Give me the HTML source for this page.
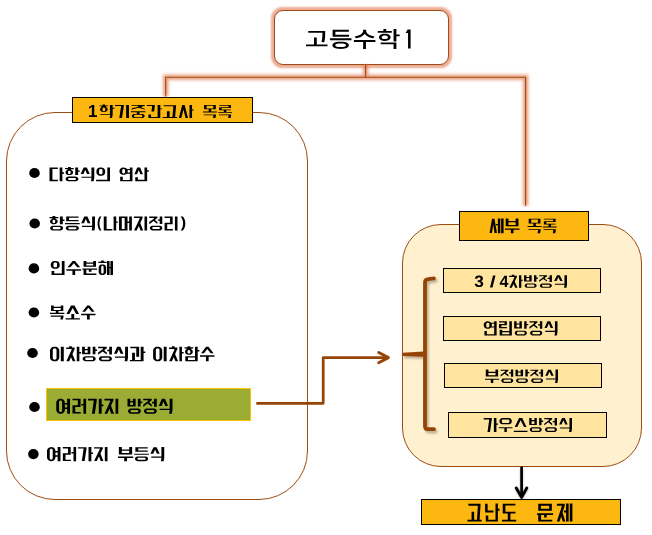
<!DOCTYPE html>
<html lang="ko">
<head>
<meta charset="utf-8">
<title>고등수학1 - 1학기중간고사 목록</title>
<style>
html, body { margin: 0; padding: 0; background: #fff; }
#stage { position: relative; width: 652px; height: 535px; overflow: hidden; background: #fff;
  font-family: "Liberation Sans", sans-serif; font-weight: bold; }
#stage div, #stage ul, #stage li { box-sizing: border-box; position: absolute; margin: 0; padding: 0; }
/* real text stays in the DOM; the visible glyphs are drawn as outlines in #ink
   because the Liberation family has no Hangul */
.t { color: transparent; white-space: nowrap; text-align: center; overflow: hidden; }
#title { left: 274px; top: 10px; width: 175px; height: 55px; border: 1px solid #9b4b15; border-radius: 9px;
  background: #fff; box-shadow: 0 0 2px 2.4px rgba(222,98,50,.52);
  font-size: 24px; line-height: 53px; }
#listbox { left: 6px; top: 112px; width: 302px; height: 388px; border: 1px solid #9e4c14; border-radius: 49px; background: #fff; }
#listlabel { left: 72px; top: 97px; width: 181px; height: 26px; border: 1px solid #000; background: #fdb711;
  font-size: 16px; line-height: 24px; }
#list { left: 0; top: 0; list-style: none; }
#list li { left: 49px; height: 20px; font-size: 16px; line-height: 20px; }
#hl { left: 46px; top: 388px; width: 205px; height: 33px; border: 1px solid #ffc000; background: #9aac33; }
#detail { left: 402px; top: 224px; width: 240px; height: 243px; border: 1px solid #9e4c14; border-radius: 39px; background: #fff0d0; }
#detaillabel { left: 459px; top: 211px; width: 130px; height: 30px; border: 1px solid #000; background: #fdb711;
  font-size: 16px; line-height: 28px; }
.sub { height: 25px; border: 1px solid #000; background: #ffe4a0; font-size: 15px; line-height: 23px; }
#hard { left: 421px; top: 499px; width: 200px; height: 26px; border: 1px solid #000; background: #fdb711;
  font-size: 20px; line-height: 24px; }
#ink { position: absolute; left: 0; top: 0; pointer-events: none; }
</style>
</head>
<body>
<div id="stage">
  <div id="listbox"></div>
  <div id="detail"></div>

  <div id="title" class="t">고등수학1</div>
  <div id="listlabel" class="t">1학기중간고사 목록</div>

  <div id="hl"></div>
  <ul id="list">
    <li class="t" style="top:164px">다항식의 연산</li>
    <li class="t" style="top:213px">항등식(나머지정리)</li>
    <li class="t" style="top:258px">인수분해</li>
    <li class="t" style="top:302px">복소수</li>
    <li class="t" style="top:344px">이차방정식과 이차함수</li>
    <li class="t" style="top:396px;left:56px">여러가지 방정식</li>
    <li class="t" style="top:444px;left:47px">여러가지 부등식</li>
  </ul>

  <div id="detaillabel" class="t">세부 목록</div>
  <div class="sub t" style="left:443px;top:268px;width:158px">3 / 4차방정식</div>
  <div class="sub t" style="left:443px;top:316px;width:158px">연립방정식</div>
  <div class="sub t" style="left:444px;top:363px;width:158px">부정방정식</div>
  <div class="sub t" style="left:448px;top:412px;width:159px;height:26px">가우스방정식</div>
  <div id="hard" class="t">고난도 문제</div>

  <svg id="ink" width="652" height="535" viewBox="0 0 652 535">
    <defs>
      <filter id="glow" filterUnits="userSpaceOnUse" x="0" y="0" width="652" height="535"><feGaussianBlur stdDeviation="1.5"/></filter>
      <filter id="soft" filterUnits="userSpaceOnUse" x="0" y="0" width="652" height="535"><feGaussianBlur stdDeviation="1.2"/></filter>
    </defs>
    <!-- tree connectors from the title with orange glow -->
    <g fill="none" stroke-linejoin="miter">
      <path d="M365.6 65V77.3M165.7 96.5V77.3H525.6V205.8" stroke="#e06a3c" stroke-opacity=".62" stroke-width="5.5" filter="url(#glow)"/>
      <path d="M365.6 65V77.3M165.7 96.5V77.3H525.6V205.8" stroke="#9b4b15" stroke-width="1.1"/>
    </g>
    <!-- elbow arrow from highlighted item to detail box -->
    <g fill="none" stroke="#964405" stroke-width="2.7" stroke-linejoin="round">
      <path d="M256.3 403.3H323.2V357.6H388"/>
      <path d="M378.7 352.5L388.4 357.6L378.7 362.7" stroke-width="2.9" stroke-linecap="round"/>
    </g>
    <!-- left brace (with soft drop shadow) -->
    <g opacity=".36" filter="url(#soft)" transform="translate(1.8 2.4)" fill="#4a3c28" stroke="#4a3c28">
      <path d="M434 278.3L428.2 279.1Q425 279.4 425 282.4V426.2Q425 429.2 428 429.2H434" fill="none" stroke-width="3.8" stroke-linecap="round"/>
      <path d="M402.4 352.8L423.6 351.5V356.7L402.4 355.9Z" stroke="none"/>
    </g>
    <path d="M434 278.3L428.2 279.1Q425 279.4 425 282.4V426.2Q425 429.2 428 429.2H434" fill="none" stroke="#964405" stroke-width="3.8" stroke-linecap="round"/>
    <path d="M402.4 352.8L423.6 351.5V356.7L402.4 355.9Z" fill="#964405"/>
    <!-- down arrow -->
    <g fill="none" stroke="#000" stroke-width="2.7" stroke-linejoin="round">
      <g opacity=".28" filter="url(#soft)" transform="translate(0 .8)">
        <path d="M521.6 468V497.4"/>
        <path d="M516.3 488L521.6 497.4L526.8 488" stroke-width="2.9" stroke-linecap="round"/>
      </g>
      <path d="M521.6 466.6V497.4"/>
      <path d="M516.3 488L521.6 497.4L526.8 488" stroke-width="2.9" stroke-linecap="round"/>
    </g>
    <!-- list bullets -->
    <g fill="#000">
      <ellipse cx="34.5" cy="173" rx="5.3" ry="5.1"/>
      <ellipse cx="34.7" cy="223.5" rx="5.3" ry="5.1"/>
      <ellipse cx="33.9" cy="268.4" rx="5.3" ry="5.1"/>
      <ellipse cx="33.9" cy="312.5" rx="5.3" ry="5.1"/>
      <ellipse cx="32.5" cy="353" rx="5.3" ry="5.1"/>
      <ellipse cx="34.5" cy="407" rx="5.3" ry="5.1"/>
      <ellipse cx="33.4" cy="454.1" rx="5.3" ry="5.1"/>
    </g>
    <!-- glyph outlines -->
    <g fill="#000">
<path d="M313.98 44.41l0-6.93l2.8 0l0 6.93l10.73 0l0 1.91l-21.51 0l0-1.91zM346.66 42.62l.78 .4l.61 .47l.44 .54l.26 .59l.09 .66l-.09 .66l-.26 .59l-.44 .53l-.61 .47l-.78 .41l-.94 .34l-1.07 .26l-1.21 .19l-1.33 .11l-1.47 .04l-1.47-.04l-1.33-.11l-1.21-.19l-1.07-.26l-.94-.34l-.79-.41l-.61-.47l-.44-.53l-.26-.59l-.09-.65l.09-.66l.26-.6l.44-.53l.61-.48l.79-.4l.94-.34l1.07-.27l1.21-.19l1.33-.11l1.47-.04l1.47 .04l1.33 .11l1.21 .19l1.07 .27zM340.63 43.46l-1.29 .03l-1.13 .1l-.96 .17l-.78 .23l-.59 .29l-.4 .35l-.2 .42l0 .46l.08 .22l.3 .38l.22 .17l.27 .15l.69 .26l1.37 .27l1.13 .1l1.29 .03l1.31-.03l1.13-.1l1.37-.27l.36-.12l.59-.29l.4-.35l.12-.2l.08-.22l0-.46l-.2-.42l-.4-.35l-.59-.29l-.78-.23l-.95-.17l-1.13-.1zM351.46 38.34l0 1.9l-21.52 0l0-1.9zM325.19 34.38l-.07 2.22l-.17 1.88l-.19 1.38l-.46 2.32l-2.81-.26l.46-2.21l.28-1.98l.13-2.59l.05-2.32l-14.17 0l0-1.88l16.97 0zM332.6 36.71l0-6.95l16.23 0l0 1.89l-13.46 0l0 3.21l13.6 0l0 1.85zM364.12 34.47l-1.08 1.03l-.85 .61l-.96 .55l-1.05 .48l-1.13 .42l-1.84 .47l-1.31 .22l-1.1-1.87l1.69-.28l1.05-.27l.98-.34l.91-.39l.82-.43l1.06-.73l.59-.53l.48-.56l.51-.88l.12-.3l.12-.6l.02-1.33l2.95 0l.02 1.32l.12 .6l.12 .3l.52 .87l.48 .56l.59 .53l.69 .5l.77 .46l1.33 .6l.98 .34l1.05 .28l1.68 .28l-1.1 1.87l-.66-.1l-1.27-.26l-1.21-.34l-1.13-.41l-1.05-.49l-.96-.56l-.85-.61l-.75-.67l-.84-1.01zM380.7 44.31l0-1.87l15.66 0l0 6.46l-2.79 0l0-4.59zM353.85 41.96l0-1.91l21.52 0l0 1.91l-9.43 0l0 6.94l-2.79 0l0-6.94zM387.82 34.14l.5 .2l.86 .48l.68 .59l.26 .33l.21 .36l.14 .38l.09 .41l0 .84l-.09 .4l-.14 .38l-.21 .35l-.26 .34l-.68 .59l-.41 .25l-.95 .42l-.53 .16l-1.17 .21l-.64 .06l-1.33 0l-1.23-.15l-1.11-.28l-.5-.2l-.86-.47l-.68-.59l-.26-.34l-.21-.35l-.15-.38l-.08-.4l-.03-.42l.03-.42l.08-.41l.15-.38l.21-.36l.26-.33l.31-.31l.77-.54l.96-.42l.54-.16l.57-.13l1.23-.14l1.33 0l.64 .05l.6 .09zM384.82 35.47l-1.03 .08l-.85 .23l-.67 .38l-.24 .24l-.17 .27l-.11 .31l-.03 .33l.03 .33l.11 .29l.17 .27l.24 .24l.31 .21l.77 .31l.94 .15l1.06 0l.49-.06l.85-.23l.67-.38l.24-.24l.17-.27l.1-.29l.04-.33l-.04-.33l-.1-.31l-.17-.27l-.24-.24l-.31-.21l-.76-.31l-.45-.09zM393.57 41.5l0-12.39l2.79 0l0 5.27l3.34 0l0 1.92l-3.34 0l0 5.2zM391.83 32.87l-14.03 0l0-1.86l5.62 0l0-2.01l2.79 0l0 2.01l5.62 0z"/>
<path d="M405.6 33.06l2.46 0l0 15.54l2.54 0l0-19l-3 0z"/>
<path d="M88.9 116.9l0-1.75l2.97 0l0-8.05l-2.88 1.77l0-1.85l3-1.92l2.26 0l0 10.05l2.75 0l0 1.75z"/>
<path d="M189.48 118l2.57 0l0-7.55l1.7 0l0-1.01l-1.7 0l0-4.44l-2.57 0zM182.18 105.07l-3.3 12.86l2.46 0l2.11-8.5l2.1 8.5l2.46 0l-3.32-12.86zM173.29 107.13l-.87 9.93l-2.8 0l0-5.92l-2.72 0l0 5.92l-4.21 0l0 .94l14.52 0l0-.94l-2.01 0l0-.99l.87-9.92l0-1l-12.37 0l0 .99l9.59 0zM157.6 105l0 12.08l-6.57 0l0-2.59l-2.63 0l0 3.51l11.9 0l0-8.66l1.69 0l0-.77l-1.69 0l0-3.57zM152.04 107.06l-.6 4.54l2.67 0l.73-5.53l0-1l-8.03 0l0 1l5.23 0zM131.68 116l.1 .33l.17 .36l.24 .32l.29 .29l.34 .24l.38 .2l.65 .19l.72 .07l7.24 0l.49-.03l.67-.15l.41-.18l.36-.22l.31-.26l.37-.47l.18-.36l.1-.33l-.1-.32l-.18-.36l-.37-.47l-.31-.27l-.56-.31l-.43-.15l-.69-.11l-2.52 0l0-1.85l5.91 0l0-.87l-14.52 0l0 .87l5.91 0l0 1.85l-2.52 0l-.47 .06l-.65 .2l-.56 .31l-.45 .41l-.33 .51zM134.16 115.52l.04-.22l.17-.27l.18-.13l.2-.07l6.88 0l.29 .13l.16 .16l.1 .18l.04 .22l-.01 1.08l-.07 .2l-.13 .17l-.18 .14l-.2 .07l-6.88 0l-.29-.13l-.16-.16l-.1-.19zM144.83 105.79l0-.7l-13.28 0l0 .7l6.41 0l0 1l-6.41 1.82l0 .96l.3 0l6.52-1.9l6.16 1.9l.3 0l0-.85l-3.18-.98l0-1zM128.99 118l0-13l-2.84 0l0 13zM121.98 117.91l1.91-11.84l0-1l-8.84 0l0 1l5.93 0l0 .99l-1.68 10.85zM109.67 118l2.37 0l.62-3.2l0-6.12l1.7 0l0-1l-1.7 0l0-2.68l-2.76 0l0 9.06l-9.61 0l0 .74l9.84 0l0 1zM100 109.43l.04 .36l.14 .41l.37 .57l.33 .33l.4 .29l.69 .34l.81 .22l1.17 .08l.88-.08l.55-.13l.52-.19l.68-.38l.38-.31l.31-.35l.32-.59l.11-.6l-.07-.48l-.08-.24l-.28-.46l-.6-.6l-.52-.33l0-1l2.04 0l0-.77l-3.01 0l0-1.02l-2.62 0l0 1.02l-3.06 0l0 .77l2.03 0l0 1l-.5 .32l-.6 .59l-.28 .47l-.08 .26zM103.86 111.32l-.45-.09l-.31-.14l-.27-.2l-.26-.32l-.12-.38l0-1.35l.08-.39l.3-.43l.47-.3l.56-.13l.46 .09l.31 .14l.26 .2l.25 .33l.12 .38l.01 1.35l-.02 .21l-.11 .28l-.33 .39l-.38 .23z"/>
<path d="M230.94 109.57l-9.31 0l0-1.58l9.31 0l0-2.92l-11.74 0l0 .71l9.31 0l0 1.57l-9.31 0l0 2.92l4.58 0l0 1.74l-5.64 0l0 .79l13.86 0l0-.79l-5.64 0l0-1.74l4.58 0zM228.51 116.24l-.39 1.76l2.42 0l.61-2.75l0-.74l-12.16 0l0 .73l9.52 0zM211.22 111.58l0-2.24l4.58 0l0-4.27l-11.74 0l0 4.27l4.58 0l0 2.24l-5.64 0l0 .87l13.86 0l0-.87zM206.57 105.79l6.72 0l0 2.83l-6.72 0zM213.37 116.24l-.39 1.76l2.42 0l.61-2.75l0-.74l-12.16 0l0 .73l9.52 0z"/>
<path d="M96.09 181.25l13.91 0l0-13.74l-2.71 0l0 12.36l-11.2 0zM102.69 167.76l-.55-.13l-.58-.04l-1.85 .01l-.57 .09l-.53 .17l-.73 .38l-.61 .52l-.32 .41l-.36 .7l-.13 .52l-.04 .52l0 1.44l.04 .52l.13 .52l.36 .71l.32 .41l.61 .52l.73 .38l.81 .22l.59 .04l1.55 0l.58-.04l.55-.12l.77-.33l.64-.48l.52-.6l.35-.71l.17-.78l.01-1.7l-.1-.78l-.3-.74l-.46-.63l-.39-.36l-.44-.3zM101.17 169.02l.4 .06l.36 .17l.3 .27l.18 .34l.07 .39l-.02 2.97l-.05 .18l-.18 .34l-.48 .37l-.38 .11l-1.18 0l-.38-.11l-.33-.23l-.25-.3l-.08-.18l-.06-.39l.02-2.97l.04-.18l.19-.34l.47-.37l.38-.11zM81.45 176.67l0 1.19l9.99 0l0 .68l-.5 2.71l2.72 0l.62-3.39l0-10.35l-2.84 0l0 9.16zM80.61 174.05l2.78 0l1.81-4.01l1.82 4.01l2.78 0l-3.03-6.46l-3.13 0zM79.79 170.43l-1.68 0l0-2.92l-2.86 0l0 7.57l2.86 0l0-3.26l1.68 0zM65.57 178.93l.12 .51l.18 .39l.24 .35l.45 .45l.56 .33l.42 .16l.45 .1l.47 .03l7.08 0l.7-.07l.43-.13l.41-.19l.36-.23l.32-.29l.26-.33l.21-.37l.2-.71l-.12-.51l-.18-.4l-.23-.35l-.46-.44l-.56-.33l-.42-.17l-.45-.1l-.47-.03l-7.08 0l-.7 .07l-.43 .14l-.41 .19l-.36 .23l-.31 .29l-.27 .32l-.21 .38zM68.85 177.92l6.4 .01l.2 .06l.18 .13l.18 .26l.03 .99l-.07 .2l-.14 .17l-.18 .12l-.2 .06l-6.51 0l-.29-.11l-.22-.24l-.06-.2l-.01-.78l.03-.21l.17-.26l.18-.13zM71.65 170.17l-.67-.29l0-.68l2.71 0l0-1.15l-2.99 0l0-1.05l-2.69 0l0 1.05l-3.03 0l0 1.15l2.6 0l0 .68l-.5 .21l-.58 .38l-.37 .34l-.29 .38l-.24 .58l-.05 .8l.1 .61l.17 .38l.26 .34l.32 .31l.38 .28l.43 .23l.49 .18l.79 .17l.57 .03l.95-.03l.55-.1l.52-.16l.68-.32l.4-.28l.47-.48l.31-.55l.1-.4l.01-.62l-.09-.58l-.28-.54l-.21-.25l-.52-.44zM69.32 174.04l-.5-.13l-.45-.28l-.28-.39l-.07-.38l.01-1.18l.14-.35l.13-.15l.34-.27l.41-.17l.26-.05l.49 .12l.38 .22l.29 .3l.08 .17l.08 .37l-.01 1.09l-.16 .44l-.19 .23l-.25 .18l-.31 .14zM59.67 181.25l2.72 0l0-7.56l1.67 0l0-1.32l-1.67 0l0-4.86l-2.72 0zM57.96 179.82l-5.52 0l0-10.89l5.44 0l0-1.34l-8.38 0l0 13.6l8.46 0z"/>
<path d="M135.26 181.25l11.88 0l0-9.46l1.61 0l0-1.48l-1.61 0l0-2.8l-2.66 0l0 12.34l-6.62 0l0-2.64l-2.6 0zM138.68 170.31l1.67 3.89l2.59 0l-2.8-6.61l-2.93 0l-2.8 6.61l2.59 0zM120.17 181.25l12.31 0l0-13.74l-2.64 0l0 1.45l-2.83 0l-.47-.46l-.28-.2l-.63-.34l-.71-.24l-.37-.08l-.78-.07l-1.09 .04l-.82 .2l-.75 .35l-.45 .32l-.39 .36l-.46 .63l-.26 .69l-.05 .49l0 1.12l.05 .49l.14 .46l.39 .65l.55 .54l.69 .43l.81 .3l.59 .12l1.37 .02l.68-.09l.65-.19l.59-.27l.75-.54l3.08 0l0 6.26l-7.05 0l0-3.12l-2.62 0zM127.68 172.54l0-2.43l2.16 0l0 2.43zM123.61 168.98l.55 .15l.5 .33l.26 .37l.12 .55l0 1.86l-.12 .43l-.18 .28l-.37 .32l-.33 .16l-.43 .09l-.56-.14l-.4-.26l-.34-.45l-.11-.31l-.02-.25l0-1.85l.13-.43l.26-.37l.27-.21l.33-.17z"/>
<path d="M82.04 225.84l0 1.21l10.1 0l0 .68l-.52 2.77l2.76 0l.62-3.44l0-10.54l-2.86 0l0 9.32zM83.99 223.18l1.83-4.09l1.85 4.09l2.81 0l-3.07-6.58l-3.15 0l-3.08 6.58zM79.69 223.03l-14.63 0l0 1.14l14.63 0zM65.78 228.16l.13 .52l.18 .4l.23 .35l.45 .44l.56 .34l.43 .16l.46 .1l.48 .03l7.34 0l.72-.07l.45-.13l.41-.19l.36-.24l.31-.28l.26-.33l.21-.38l.2-.72l-.12-.52l-.18-.39l-.23-.34l-.45-.45l-.56-.34l-.43-.17l-.46-.1l-.49-.03l-7.34 0l-.72 .07l-.44 .14l-.41 .19l-.36 .24l-.31 .29l-.26 .33l-.21 .36l-.15 .41zM69.1 227.15l6.66 .01l.21 .06l.18 .12l.17 .27l.02 1l-.06 .2l-.13 .16l-.18 .13l-.21 .06l-6.77 0l-.3-.12l-.22-.23l-.08-.31l0-.66l.04-.23l.17-.27l.18-.12zM78.57 219.93l-9.47 0l0-2.07l9.47 0l0-1.26l-12.4 0l0 4.59l12.4 0zM64.46 219.49l-1.69 0l0-2.97l-2.88 0l0 7.71l2.88 0l0-3.31l1.69 0zM50.1 228.13l.12 .53l.18 .4l.24 .35l.46 .46l.57 .34l.43 .16l.45 .1l.47 .03l7.16 0l.7-.07l.44-.13l.41-.19l.36-.24l.33-.3l.26-.33l.21-.38l.15-.41l.06-.32l-.13-.52l-.18-.4l-.23-.36l-.47-.44l-.56-.35l-.43-.17l-.45-.1l-.47-.03l-7.16 0l-.7 .08l-.44 .13l-.41 .2l-.37 .24l-.32 .28l-.26 .33l-.21 .38zM59.78 227.11l.31 .07l.18 .13l.18 .27l.04 .22l-.04 .89l-.18 .26l-.18 .13l-.2 .06l-6.59 0l-.2-.06l-.18-.13l-.13-.17l-.07-.2l.03-1l.1-.18l.16-.16l.29-.12zM55.92 219.06l-.35-.14l0-.68l2.73 0l0-1.18l-3.02 0l0-1.06l-2.72 0l0 1.06l-3.06 0l0 1.18l2.63 0l0 .68l-.5 .22l-.59 .39l-.37 .34l-.29 .4l-.24 .58l-.06 .83l.1 .61l.18 .39l.26 .35l.32 .32l.38 .27l.44 .24l.49 .18l.8 .17l.58 .04l.96-.04l.55-.09l.52-.16l.7-.34l.39-.27l.48-.49l.32-.57l.1-.41l.01-.64l-.1-.59l-.28-.54l-.21-.26l-.52-.44zM53.88 223.15l-.5-.12l-.46-.29l-.28-.4l-.07-.38l.02-1.19l.14-.35l.12-.16l.35-.28l.41-.17l.27-.04l.5 .11l.39 .23l.28 .31l.09 .17l.07 .37l0 1.1l-.16 .45l-.2 .23l-.25 .19l-.31 .14z"/>
<path d="M177.5 230.5l0-13.98l-2.58 0l0 13.98zM172.85 229.07l-5.65 0l0-4.79l5.47 0l0-7.68l-8.09 0l0 1.43l5.47 0l0 4.71l-5.47 0l0 7.68l8.27 0zM149.87 228.09l.12 .52l.17 .4l.23 .36l.44 .47l.54 .36l.41 .16l.43 .11l.46 .03l6.86 0l.68-.08l.42-.13l.39-.2l.35-.25l.31-.3l.25-.34l.2-.38l.2-.73l-.12-.54l-.17-.4l-.23-.36l-.44-.46l-.54-.35l-.41-.18l-.43-.1l-.46-.04l-6.86 0l-.67 .08l-.43 .14l-.39 .21l-.35 .24l-.3 .3l-.26 .34l-.2 .38zM153.06 227.07l6.19 .01l.19 .06l.17 .13l.17 .26l.02 1.01l-.06 .19l-.13 .17l-.17 .12l-.19 .06l-6.29 0l-.29-.12l-.21-.23l-.07-.31l0-.66l.03-.23l.17-.26l.17-.13zM159.69 220.82l0 3.21l2.6 0l0-7.51l-2.6 0l0 2.87l-1.9 0l0 1.43zM153.42 221.01l3.6 2.73l.4 0l0-1.78l-2.2-1.66l0-.68l2.2-1.67l0-1.35l-8.2 0l0 1.35l4.57 0l0 .68l-4.57 3.49l0 1.78l.4 0zM147.1 230.5l0-13.98l-2.6 0l0 13.98zM136.69 230.44l2.13-4.45l1.66 4.45l2.66 0l-2.75-7.1l0-.68l2.2-4.63l0-1.43l-8.58 0l0 1.43l5.54 0l0 .68l-5.48 11.73zM129.22 230.5l2.65 0l0-13.98l-2.65 0l0 4.96l-1.72 0l0-4.88l-8.54 0l0 13.82l8.54 0l0-7.45l1.72 0zM121.81 228.99l0-10.96l2.83 0l0 10.96zM113.59 230.5l2.64 0l0-7.69l1.62 0l0-1.35l-1.62 0l0-4.94l-2.64 0zM106.61 216.6l-2.86 0l0 13.84l8.64 0l0-1.45l-5.78 0z"/>
<path d="M99.6 230.6l-.75-1.34l-.31-.67l-.47-1.34l-.17-.69l-.13-.72l-.15-1.53l0-1.64l.15-1.53l.3-1.4l.21-.66l.57-1.34l.75-1.34l1.9 0l-.4 .68l-.67 1.35l-.48 1.35l-.31 1.4l-.15 1.52l-.02 .8l.08 1.56l.23 1.45l.17 .69l.21 .67l.58 1.35l.76 1.38z"/>
<path d="M180.6 230.6l.92-1.38l.38-.68l.57-1.34l.21-.68l.28-1.45l.09-1.57l-.03-.81l-.18-1.52l-.38-1.4l-.58-1.35l-.37-.67l-.91-1.35l2.28 0l.49 .67l.8 1.35l.31 .67l.46 1.36l.27 1.46l.07 .77l0 1.62l-.18 1.53l-.37 1.4l-.25 .67l-.68 1.35l-.92 1.35z"/>
<path d="M110.41 266.91l-.85 0l0-5.89l-2.59 0l0 13.98l2.59 0l0-6.68l.85 0l0 6.68l2.59 0l0-13.98l-2.59 0zM101.06 261.8l-2.75 0l0 1.23l8.2 0l0-1.23l-2.71 0l0-1.3l-2.74 0zM104.05 264.62l-.47-.11l-.49-.04l-1.61 .01l-.72 .14l-.65 .3l-.55 .42l-.43 .54l-.3 .63l-.11 .46l-.03 .47l0 4.53l.08 .71l.25 .65l.38 .57l.33 .31l.38 .27l.65 .29l.47 .12l.51 .03l1.6-.01l.71-.14l.64-.29l.55-.42l.44-.53l.3-.63l.12-.46l.04-.47l0-4.53l-.09-.7l-.26-.66l-.39-.57l-.33-.33l-.38-.26zM103.61 267.09l0 5.22l-.07 .47l-.19 .37l-.32 .29l-.18 .1l-.41 .11l-.27-.04l-.38-.17l-.32-.29l-.19-.37l-.05-.22l0-5.72l.13-.41l.26-.33l.35-.23l.47-.11l.41 .11l.18 .1l.32 .29l.19 .37zM88.8 271.86l2.61 0l0-2.07l5.76 0l0-1.25l-14.75 0l0 1.25l1.12 0l0 5.21l12.83 0l0-1.41l-10.05 0l0-3.8l2.48 0zM93.2 262.53l-6.84 0l0-1.51l-2.82 0l0 5.71l12.5 0l0-5.71l-2.84 0zM86.36 263.77l6.84 0l0 1.71l-6.84 0zM81.15 270.66l0-1.35l-14.75 0l0 1.35l6.04 0l0 4.34l2.76 0l0-4.34zM67.49 267.16l2.93 0l3.41-3.95l3.43 3.95l2.93 0l-5.18-6.08l-2.38 0zM64.54 275l0-13.98l-2.73 0l0 12.57l-7.57 0l0-2.67l-2.74 0l0 4.08zM57.26 261.27l-.56-.13l-.59-.04l-2.01 .01l-.57 .09l-.55 .17l-.5 .25l-.45 .31l-.57 .57l-.42 .68l-.18 .5l-.1 .53l0 1.42l.1 .54l.31 .75l.47 .64l.39 .36l.45 .31l.5 .24l.83 .21l.6 .05l2-.01l.58-.09l.8-.28l.7-.43l.56-.56l.41-.69l.24-.77l.04-1.42l-.1-.8l-.3-.74l-.29-.44l-.36-.39l-.65-.49zM55.72 262.57l.41 .06l.36 .17l.31 .28l.19 .34l.06 .39l0 2.22l-.06 .39l-.08 .17l-.26 .32l-.16 .13l-.36 .18l-.41 .06l-.92 0l-.42-.06l-.37-.18l-.16-.13l-.25-.32l-.12-.36l-.01-2.42l.06-.39l.18-.34l.3-.28l.18-.1l.39-.12z"/>
<path d="M95.5 315.16l0-1.36l-14.35 0l0 1.36l5.88 0l0 4.34l2.69 0l0-4.34zM82.21 311.65l2.87 0l3.31-3.95l3.32 3.95l2.86 0l-5.03-6.09l-2.33 0zM79.93 318.14l-5.76 0l0-4.17l-2.84 0l0 4.17l-5.76 0l0 1.36l14.36 0zM66.41 314.11l3.03 0l3.31-6.13l3.31 6.13l3.03 0l-4.6-8.55l-3.48 0zM53.68 305.5l-2.63 0l0 5.55l4.79 0l0 1.74l-5.84 0l0 1.11l14.35 0l0-1.11l-5.84 0l0-1.74l4.79 0l0-5.55l-2.61 0l0 1.34l-7.01 0zM60.69 307.92l0 2l-7.01 0l0-2zM60.29 319.5l2.58 0l.63-2.77l0-1.15l-12.79 0l0 1.15l10.06 0l0 .67z"/>
<path d="M143.59 346.79l-2.89 0l0 13.12l-5.75 0l0-7.2l-2.86 0l0 7.2l-2.24 0l0 1.34l13.74 0l0-8.28l1.71 0l0-1.5l-1.71 0zM130.27 346.87l0 1.38l6 0l0 8.54l2.86 0l0-9.92zM125.11 356.41l-10.21 0l0 1.28l10.21 0l0 .68l-.53 2.88l2.79 0l.62-3.56l0-10.9l-2.88 0zM114.02 353.69l2.85 0l1.85-4.23l1.87 4.23l2.85 0l-3.12-6.82l-3.18 0zM98.85 358.75l.13 .55l.18 .41l.24 .38l.47 .48l.57 .37l.43 .17l.45 .1l.48 .04l7.23 0l.71-.08l.44-.14l.42-.2l.37-.26l.32-.31l.27-.35l.21-.4l.15-.43l.06-.33l-.13-.57l-.18-.41l-.24-.37l-.46-.48l-.58-.36l-.43-.18l-.45-.11l-.48-.04l-7.23 0l-.71 .08l-.44 .15l-.41 .21l-.37 .25l-.33 .31l-.27 .35l-.21 .39l-.15 .43zM108.64 357.71l.31 .07l.18 .13l.18 .28l.03 .23l0 .78l-.07 .2l-.22 .24l-.3 .12l-6.67 0l-.2-.06l-.18-.13l-.14-.17l-.06-.2l.02-1.01l.18-.28l.18-.13l.2-.06zM109.22 351.25l0 3.32l2.72 0l0-7.78l-2.72 0l0 2.96l-2.01 0l0 1.5zM102.58 351.44l3.82 2.83l.4 0l0-1.86l-2.32-1.72l0-.68l2.32-1.72l0-1.42l-8.64 0l0 1.42l4.83 0l0 .68l-4.83 3.6l0 1.86l.4 0zM97.14 350.97l0-1.5l-1.72 0l0-2.68l-2.74 0l0 7.58l2.74 0l0-3.4zM82.63 358.75l.13 .55l.18 .41l.24 .38l.46 .48l.58 .37l.43 .17l.45 .1l.48 .04l7.21 0l.72-.08l.45-.14l.41-.2l.37-.26l.31-.31l.27-.35l.21-.4l.15-.43l.06-.33l-.13-.57l-.18-.41l-.24-.37l-.45-.48l-.57-.36l-.43-.18l-.46-.11l-.49-.04l-7.21 0l-.71 .08l-.44 .15l-.42 .21l-.37 .25l-.32 .31l-.27 .35l-.21 .39l-.15 .43zM85.27 358.28l.07-.23l.14-.22l.18-.17l.23-.08l6.59 0l.32 .16l.23 .31l.07 .37l-.01 .8l-.06 .23l-.14 .21l-.18 .16l-.23 .08l-6.59 0l-.33-.15l-.22-.3l-.07-.37zM87.65 346.87l0 2.06l-2.8 0l0-2.06l-2.74 0l0 7.26l8.28 0l0-7.26zM84.85 352.81l0-2.62l2.8 0l0 2.62zM81.09 353.39l0-1.42l-1.72 0l0-5.18l-2.61 0l0 14.46l2.61 0l0-7.86zM72.74 361.23l2.71 0l-2.89-6.84l0-.68l2.11-4.72l0-1.48l-2.82 0l0-1.26l-2.74 0l0 1.26l-2.89 0l0 1.48l5.39 0l0 .68l-5.23 11.56l2.81 0l1.81-4.06zM60.81 361.25l2.97 0l0-14.46l-2.97 0zM56.92 347.11l-.89-.27l-.64-.05l-1.61 .01l-.65 .1l-.62 .2l-.83 .45l-.69 .61l-.53 .74l-.34 .85l-.12 .93l0 6.7l.12 .93l.34 .85l.34 .51l.4 .45l.74 .55l.87 .39l.97 .18l1.55 .01l.64-.05l.91-.26l.81-.45l.66-.62l.51-.75l.33-.84l.11-.9l0-6.7l-.04-.6l-.26-.88l-.44-.79l-.61-.65l-.49-.36zM54.9 348.39l.51 .09l.55 .33l.38 .48l.16 .47l.02 8.42l-.04 .24l-.14 .35l-.21 .32l-.28 .26l-.33 .19l-.25 .08l-.89 .04l-.53-.12l-.57-.35l-.32-.4l-.16-.48l-.01-8.43l.07-.39l.1-.24l.14-.21l.29-.26l.34-.2l.38-.14z"/>
<path d="M214.5 356.77l0-1.42l-14.52 0l0 1.42l5.95 0l0 4.48l2.72 0l0-4.48zM201.04 353.15l2.91 0l3.35-4.08l3.37 4.08l2.91 0l-5.11-6.3l-2.35 0zM197.71 349.99l0-3.2l-2.7 0l0 9.46l-9.69 0l0 5l12.39 0l0-9.78l1.68 0l0-1.48zM188.02 359.99l0-2.46l6.99 0l0 2.46zM191.98 349.82l-.74-.55l0-.68l2.04 0l0-1.24l-3 0l0-1.1l-2.7 0l0 1.1l-3.04 0l0 1.24l2.02 0l0 .68l-.49 .34l-.42 .41l-.34 .48l-.12 .26l-.14 .58l0 .81l.17 .67l.23 .41l.29 .38l.36 .34l.42 .29l.73 .33l.83 .18l.6 .04l.97-.04l.56-.1l.54-.18l.49-.23l.44-.29l.53-.52l.38-.61l.15-.44l.04-.46l-.01-.61l-.14-.54l-.27-.5zM188.93 350l.51 .13l.38 .25l.33 .44l.1 .3l.02 .22l0 1.06l-.04 .21l-.14 .29l-.19 .26l-.26 .22l-.31 .15l-.4 .09l-.51-.13l-.47-.33l-.3-.45l-.08-.43l.01-1.05l.17-.51l.2-.26l.27-.22l.31-.15zM183.63 351.97l-1.68 0l0-5.18l-2.58 0l0 14.46l2.58 0l0-7.86l1.68 0zM178.09 361.23l-2.83-6.84l0-.68l2.07-4.72l0-1.48l-2.77 0l0-1.26l-2.7 0l0 1.26l-2.83 0l0 1.48l5.29 0l0 .68l-5.13 11.56l2.76 0l1.77-4.05l1.71 4.05zM166.64 361.25l0-14.46l-2.93 0l0 14.46zM159.62 346.99l-.9-.19l-1.57-.01l-.66 .05l-.93 .26l-.81 .45l-.68 .61l-.52 .74l-.34 .85l-.11 .93l0 6.7l.11 .93l.34 .85l.33 .51l.4 .45l.47 .39l.53 .31l.89 .32l.64 .1l1.85 0l.61-.1l.87-.33l.51-.32l.66-.62l.49-.75l.33-.84l.11-.9l0-6.7l-.1-.9l-.32-.86l-.49-.74l-.42-.42l-.48-.36zM157.91 348.39l.5 .09l.54 .33l.38 .48l.15 .47l.02 8.42l-.04 .24l-.13 .35l-.21 .32l-.28 .26l-.32 .19l-.24 .08l-.87 .04l-.52-.12l-.56-.35l-.31-.4l-.16-.48l-.02-8.43l.08-.39l.1-.24l.14-.21l.27-.26l.34-.2l.37-.14z"/>
<path d="M118.25 413.75l0-15l-2.72 0l0 15zM109.51 408.9l1.77 4.79l2.8 0l-2.92-7.65l0-.68l2.32-4.95l0-1.58l-9.04 0l0 1.58l5.86 0l0 .68l-5.82 12.6l2.77 0zM101.7 413.75l0-7.6l1.72 0l0-1.58l-1.72 0l0-5.82l-2.9 0l0 15zM96.75 400.39l0-1.56l-8.79 0l0 1.56l5.75 0l0 .68l-1.76 12.6l2.87 0zM81.33 404.03l0 1.5l2.07 0l0 8.22l2.7 0l0-15l-2.7 0l0 5.28zM80.75 412.09l-5.53 0l0-5.07l5.34 0l0-8.27l-8.08 0l0 1.58l5.34 0l0 4.99l-5.34 0l0 8.26l8.27 0zM62.08 398.96l-.63-.16l-1.05-.05l-.68 .05l-.94 .27l-.57 .29l-.75 .58l-.41 .47l-.48 .8l-.2 .6l-.12 .97l0 6.94l.12 .97l.34 .89l.34 .53l.65 .68l.51 .36l.57 .29l.62 .2l.65 .1l1.07 0l.65-.1l.61-.2l.83-.46l.48-.4l.58-.73l.3-.55l.2-.61l.11-.64l.01-1l2.26 0l0 4.7l2.89 0l0-15l-2.89 0l0 4.2l-2.26 0l-.05-.82l-.16-.62l-.25-.58l-.33-.52l-.41-.47l-.48-.4l-.54-.33zM64.89 407.49l0-2.98l2.26 0l0 2.98zM60.58 412.06l-.48-.13l-.55-.36l-.32-.41l-.17-.5l-.03-8.54l.09-.55l.11-.24l.22-.32l.53-.39l.6-.18l.6 .18l.44 .3l.31 .41l.18 .5l.02 8.55l-.09 .54l-.11 .24l-.22 .32l-.53 .4z"/>
<path d="M159.66 408.71l0 1.35l10 0l0 .68l-.52 3.01l2.75 0l.61-3.68l0-11.32l-2.84 0l0 9.96zM161.6 405.92l1.81-4.37l1.82 4.37l2.82 0l-3.07-7.09l-3.13 0l-3.07 7.09zM143.92 411.14l.12 .59l.18 .43l.24 .39l.45 .49l.56 .38l.43 .18l.44 .11l.47 .04l7.09 0l.7-.08l.44-.15l.4-.21l.36-.27l.32-.32l.27-.36l.2-.41l.15-.44l.06-.37l-.12-.59l-.18-.43l-.24-.39l-.46-.48l-.56-.38l-.42-.19l-.44-.12l-.48-.03l-7.09 0l-.69 .08l-.44 .15l-.4 .22l-.37 .27l-.32 .31l-.26 .36l-.21 .41l-.14 .44zM153.51 410.08l.31 .08l.18 .13l.17 .29l.04 .24l-.01 .78l-.07 .21l-.21 .25l-.3 .12l-6.52 0l-.21-.06l-.17-.13l-.14-.18l-.06-.21l.02-1.02l.18-.29l.17-.13l.21-.07zM154.08 406.83l2.68 0l0-8.08l-2.68 0l0 3.07l-1.96 0l0 1.57l1.96 0zM151.32 406.52l.4 0l0-1.95l-2.28-1.78l0-.68l2.28-1.78l0-1.5l-8.48 0l0 1.5l4.74 0l0 .68l-4.74 3.73l0 1.95l.4 0l3.94-3.1zM142.25 401.53l-1.68 0l0-2.78l-2.7 0l0 7.87l2.7 0l0-3.52l1.68 0zM128.01 411.14l.13 .59l.17 .43l.24 .39l.46 .49l.56 .38l.42 .18l.45 .11l.47 .04l7.07 0l.71-.08l.44-.15l.41-.21l.35-.27l.31-.32l.26-.36l.21-.41l.14-.44l.06-.37l-.12-.59l-.18-.43l-.23-.39l-.45-.48l-.55-.38l-.42-.19l-.46-.12l-.48-.03l-7.07 0l-.7 .08l-.43 .15l-.41 .22l-.36 .27l-.32 .31l-.26 .36l-.21 .41l-.15 .44zM130.61 411.62l.03-1.07l.17-.34l.18-.17l.23-.09l6.45 0l.32 .16l.22 .32l.07 .39l-.01 .8l-.06 .24l-.13 .22l-.19 .16l-.22 .09l-6.45 0l-.32-.16l-.22-.31zM132.93 400.97l-2.73 0l0-2.14l-2.7 0l0 7.55l8.13 0l0-7.55l-2.7 0zM130.2 404.98l0-2.68l2.73 0l0 2.68z"/>
<path d="M107.5 461.15l0-14.07l-2.66 0l0 14.07zM98.97 456.6l1.72 4.49l2.72 0l-2.83-7.15l0-.68l2.27-4.66l0-1.44l-8.83 0l0 1.44l5.71 0l0 .68l-5.65 11.81l2.69 0zM91.36 461.15l0-7.15l1.67 0l0-1.45l-1.67 0l0-5.47l-2.85 0l0 14.07zM86.52 448.58l0-1.42l-8.58 0l0 1.42l5.61 0l0 .68l-1.72 11.81l2.81 0zM71.47 452.05l0 1.36l2.02 0l0 7.74l2.64 0l0-14.07l-2.64 0l0 4.97zM70.91 459.63l-5.39 0l0-4.81l5.21 0l0-7.74l-7.89 0l0 1.44l5.2 0l0 4.74l-5.2 0l0 7.74l8.07 0zM52.69 447.27l-.61-.14l-1.03-.05l-.66 .05l-.92 .25l-.56 .28l-.73 .54l-.4 .44l-.46 .76l-.21 .56l-.11 .91l0 6.49l.11 .91l.34 .84l.33 .5l.63 .64l.5 .34l.56 .27l.6 .19l.64 .09l1.05 0l.63-.09l.6-.19l.81-.43l.47-.38l.57-.68l.28-.53l.21-.57l.1-.6l.01-.94l2.19 0l0 4.42l2.83 0l0-14.07l-2.83 0l0 3.95l-2.19 0l-.05-.77l-.15-.59l-.25-.54l-.33-.49l-.39-.44l-.47-.38l-.52-.31zM55.44 455.3l0-2.84l2.19 0l0 2.84zM51.23 459.6l-.58-.17l-.42-.29l-.31-.38l-.17-.47l-.02-8.08l.08-.52l.11-.23l.22-.3l.51-.36l.58-.17l.58 .17l.42 .28l.31 .38l.17 .48l.02 8.08l-.08 .51l-.33 .52l-.51 .38z"/>
<path d="M151.26 456.45l0 1.23l10.12 0l0 .68l-.52 2.79l2.77 0l.62-3.46l0-10.61l-2.87 0l0 9.37zM153.21 453.79l1.84-4.12l1.85 4.12l2.82 0l-3.08-6.63l-3.16 0l-3.09 6.63zM148.9 453.63l-14.68 0l0 1.15l14.68 0zM134.95 458.8l.13 .52l.18 .4l.23 .35l.45 .45l.56 .34l.43 .16l.46 .1l.49 .03l7.36 0l.72-.07l.45-.13l.41-.19l.36-.24l.31-.29l.26-.33l.21-.37l.21-.73l-.12-.53l-.18-.39l-.24-.35l-.45-.45l-.56-.34l-.43-.17l-.46-.1l-.49-.04l-7.36 0l-.72 .08l-.45 .14l-.4 .19l-.37 .24l-.31 .29l-.26 .33l-.21 .37l-.15 .41zM138.27 457.78l6.69 .01l.2 .06l.18 .13l.18 .26l.02 1.01l-.06 .19l-.14 .17l-.18 .13l-.2 .06l-6.8 0l-.3-.12l-.22-.24l-.07-.31l0-.66l.03-.23l.18-.26l.18-.13zM147.78 450.51l-9.51 0l0-2.08l9.51 0l0-1.27l-12.44 0l0 4.62l12.44 0zM118 456.55l0 1.39l6.2 0l0 3.31l2.85 0l0-3.31l6.2 0l0-1.39zM129.2 449.38l-7.38 0l0-2.38l-2.97 0l0 7.51l13.33 0l0-7.51l-2.98 0zM121.82 453.08l0-2.26l7.38 0l0 2.26z"/>
<path d="M504.86 228.61l0 1.18l5.99 0l0 3.51l2.66 0l0-3.51l5.99 0l0-1.18zM515.68 221.02l-7.22 0l0-2.52l-2.78 0l0 7.66l12.78 0l0-7.66l-2.78 0zM515.68 224.94l-7.22 0l0-2.68l7.22 0zM503.58 218.58l-2.46 0l0 14.62l2.46 0zM500.29 233.2l0-14.62l-2.42 0l0 5.37l-1.94 0l0 1.18l1.94 0l0 8.07zM492.02 218.64l-2.45 14.47l2.37 0l1.3-8.68l1.33 8.68l2.37 0l-2.45-14.47z"/>
<path d="M555.63 223.68l-9.33 0l0-1.64l9.33 0l0-3.38l-11.77 0l0 .9l9.34 0l0 1.64l-9.34 0l0 3.38l4.59 0l0 1.82l-5.66 0l0 1l13.91 0l0-1l-5.66 0l0-1.82l4.59 0zM553.2 231.12l-.42 2.08l2.46 0l.61-3.07l0-.95l-12.21 0l0 .94l9.56 0zM535.85 225.93l0-2.39l4.59 0l0-4.88l-11.77 0l0 4.88l4.59 0l0 2.39l-5.66 0l0 1.08l13.91 0l0-1.08zM531.18 219.58l6.75 0l0 3.05l-6.75 0zM538.01 231.12l-.42 2.08l2.46 0l.61-3.07l0-.95l-12.21 0l0 .94l9.56 0z"/>
<path d="M483.2 283.79l-.04 .61l-.13 .54l-.22 .49l-.3 .43l-.4 .38l-.47 .31l-.54 .24l-.62 .17l-.69 .11l-.76 .03l-.73-.03l-.67-.1l-.6-.17l-.54-.23l-.48-.3l-.41-.37l-.34-.42l-.26-.48l-.19-.54l-.11-.6l2.39-.2l.15 .58l.26 .46l.39 .32l.5 .19l.63 .07l.61-.06l.26-.08l.44-.26l.17-.18l.22-.45l.08-.59l-.1-.55l-.11-.22l-.36-.38l-.25-.14l-.63-.2l-.38-.04l-1.25-.02l0-1.81l1.15-.02l.35-.05l.57-.18l.4-.32l.25-.42l.08-.54l-.07-.5l-.19-.42l-.32-.31l-.21-.11l-.5-.13l-.58 0l-.49 .13l-.4 .24l-.16 .17l-.24 .41l-.11 .51l-2.35-.16l.11-.56l.18-.5l.25-.46l.33-.4l.39-.36l.46-.29l.51-.23l.56-.17l.62-.1l.67-.03l.7 .03l.64 .1l.58 .16l.51 .22l.45 .28l.37 .35l.3 .39l.2 .44l.13 .49l.04 .53l-.03 .41l-.2 .72l-.18 .32l-.52 .54l-.7 .4l-.88 .25l0 .03l.98 .21l.42 .17l.36 .21l.32 .26l.26 .3l.21 .32l.14 .36l.09 .39z"/>
<path d="M506.93 286.92l-2.1 0l0-2.29l-5.03 0l0-1.69l4.66-7.27l2.47 0l0 7.29l1.47 0l0 1.67l-1.47 0zM504.83 279.1l.07-1.4l-.74 1.29l-2.56 3.97l3.23 0z"/>
<path d="M490 287.4l3.03-12l2.47 0l-2.97 12z"/>
<path d="M564.46 283.71l-9.58 0l0 .93l9.58 0l0 .8l-.45 2.36l2.4 0l.59-3.15l0-9.47l-2.54 0zM554.15 281.1l2.4 0l1.83-3.94l1.84 3.94l2.41 0l-2.84-5.85l-2.81 0zM539.81 285.68l.1 .39l.17 .37l.23 .33l.44 .43l.54 .32l.4 .16l.43 .09l.45 .03l6.61 0l.67-.07l.42-.13l.38-.18l.35-.22l.31-.28l.25-.31l.2-.35l.18-.58l-.1-.4l-.17-.37l-.23-.33l-.44-.42l-.53-.32l-.41-.16l-.43-.1l-.45-.03l-6.61 0l-.67 .07l-.42 .13l-.38 .19l-.66 .49l-.25 .31l-.2 .35zM548.99 284.66l.3 .07l.17 .11l.12 .16l.07 .18l-.03 1.09l-.16 .24l-.27 .15l-6.53 .02l-.2-.06l-.17-.11l-.12-.16l-.07-.17l.03-1.1l.16-.24l.27-.15zM549.54 281.88l2.38 0l0-6.7l-2.38 0l0 2.62l-1.89 0l0 1.14l1.89 0zM546.89 281.61l.19 0l0-1.45l-2.18-1.52l0-.8l2.18-1.53l0-1.06l-7.93 0l0 1.06l4.53 0l0 .8l-4.53 3.19l0 1.45l.2 0l3.86-2.71zM538.01 277.55l-1.61 0l0-2.37l-2.4 0l0 6.52l2.4 0l0-3.01l1.61 0zM524.57 285.68l.1 .39l.17 .37l.23 .33l.44 .43l.53 .32l.41 .16l.43 .09l.45 .03l6.59 0l.69-.07l.62-.21l.36-.2l.32-.26l.27-.29l.23-.33l.17-.37l.1-.39l-.1-.4l-.17-.37l-.23-.33l-.42-.42l-.53-.32l-.41-.16l-.43-.1l-.47-.03l-6.59 0l-.67 .07l-.42 .13l-.38 .19l-.66 .49l-.25 .31l-.2 .35zM526.86 286.07l.03-1.01l.16-.29l.18-.15l.21-.07l6.37 0l.3 .14l.16 .17l.09 .2l.03 1.13l-.07 .21l-.12 .19l-.18 .14l-.21 .07l-6.37 0l-.3-.13l-.21-.27zM529.27 275.25l0 1.83l-2.81 0l0-1.83l-2.4 0l0 6.24l7.61 0l0-6.24zM526.46 280.52l0-2.52l2.81 0l0 2.52zM522.93 279.77l-1.61 0l0-4.59l-2.28 0l0 12.62l2.28 0l0-6.97l1.61 0zM515.27 287.78l2.27 0l-2.63-5.87l0-.79l1.99-4.19l0-1.11l-2.65 0l0-1.12l-2.4 0l0 1.12l-2.71 0l0 1.11l5.07 0l0 .8l-4.83 10.05l2.37 0l1.79-3.79z"/>
<path d="M554.94 330.81l-9.67 0l0 1.15l9.67 0l0 .8l-.47 2.74l2.44 0l.59-3.54l0-10.71l-2.56 0zM544.49 327.99l2.47 0l1.84-4.42l1.86 4.42l2.47 0l-2.9-6.66l-2.84 0zM530.06 333.07l.12 .49l.17 .41l.23 .37l.44 .48l.54 .37l.41 .17l.43 .11l.45 .03l6.68 0l.67-.08l.42-.14l.39-.2l.35-.26l.31-.31l.25-.35l.2-.39l.19-.7l-.11-.5l-.17-.41l-.23-.37l-.44-.47l-.54-.36l-.41-.18l-.43-.11l-.45-.04l-6.68 0l-.67 .09l-.42 .14l-.39 .21l-.35 .25l-.31 .31l-.25 .34l-.21 .39zM539.44 331.99l.19 .06l.25 .21l.09 .19l.03 .24l-.03 1l-.17 .26l-.26 .17l-.21 .03l-6.28 0l-.21-.03l-.18-.09l-.16-.16l-.09-.18l-.04-1l.04-.24l.16-.27l.27-.17l.21-.03zM539.88 328.86l2.4 0l0-7.61l-2.4 0l0 2.94l-1.9 0l0 1.37l1.9 0zM533.5 325.68l3.71 2.88l.2 0l0-1.72l-2.2-1.71l0-.8l2.2-1.71l0-1.29l-8.01 0l0 1.29l4.58 0l0 .8l-4.58 3.58l0 1.72l.2 0zM528.25 325.28l0-1.37l-1.62 0l0-2.66l-2.42 0l0 7.41l2.42 0l0-3.38zM514.69 333.07l.11 .49l.17 .41l.23 .37l.44 .48l.54 .37l.41 .17l.43 .11l.46 .03l6.65 0l.69-.08l.42-.14l.39-.2l.35-.26l.3-.31l.25-.35l.2-.39l.19-.7l-.11-.5l-.17-.41l-.23-.37l-.43-.47l-.54-.36l-.41-.18l-.43-.11l-.47-.04l-6.65 0l-.67 .09l-.43 .14l-.39 .21l-.35 .25l-.31 .31l-.25 .34l-.2 .39zM517.03 332.43l.1-.22l.15-.2l.2-.13l.23-.04l6.31 .01l.3 .16l.16 .2l.1 .22l.02 1.17l-.06 .23l-.13 .21l-.18 .16l-.21 .08l-6.43 0l-.31-.15l-.15-.19l-.1-.22l-.03-1.03zM519.44 321.33l0 2.05l-2.84 0l0-2.05l-2.42 0l0 7.09l7.67 0l0-7.09zM516.6 327.23l0-2.72l2.84 0l0 2.72zM511.85 335.5l0-14.25l-2.54 0l0 9.84l-7.13 0l0-1.31l-2.54 0l0 5.72zM502.18 334.21l0-1.95l7.13 0l0 1.95zM506.87 328.14l0-1.22l-5.48 0l0-1.74l5.48 0l0-3.85l-7.9 0l0 1.19l5.59 0l0 1.55l-5.59 0l0 4.07zM486.86 330.97l-2.44 0l0 4.53l12.21 0l0-14.25l-2.46 0l0 1.51l-3.05 0l-.48-.48l-.28-.21l-.63-.35l-.72-.25l-.37-.09l-.79-.07l-.89 .04l-.83 .21l-.76 .37l-.66 .51l-.35 .4l-.29 .45l-.27 .73l-.05 .5l0 1.09l.05 .5l.15 .49l.39 .67l.55 .57l.69 .44l.54 .23l.57 .16l.61 .08l.87 0l.69-.1l.66-.2l.59-.28l.76-.56l3.3 0l0 6.62l-7.31 0zM491.8 323.87l2.37 0l0 2.63l-2.37 0zM489.33 326.19l-.07 .34l-.23 .4l-.37 .33l-.45 .2l-.45 .07l-.51-.11l-.34-.16l-.35-.33l-.23-.4l-.08-.34l0-2.16l.04-.23l.14-.32l.38-.44l.56-.29l.39-.07l.2 .02l.6 .2l.47 .38l.19 .3l.11 .45z"/>
<path d="M555.49 378.55l-9.49 0l0 1.03l9.49 0l0 .8l-.46 2.53l2.39 0l.58-3.32l0-10.02l-2.51 0zM545.26 375.85l2.4 0l1.81-4.14l1.82 4.14l2.4 0l-2.82-6.2l-2.79 0zM531.09 380.65l.11 .44l.16 .38l.23 .35l.43 .45l.53 .34l.4 .17l.43 .09l.44 .04l6.55 0l.66-.08l.41-.13l.39-.19l.34-.24l.3-.29l.25-.33l.2-.37l.18-.63l-.1-.44l-.17-.39l-.23-.35l-.43-.44l-.53-.34l-.4-.17l-.43-.1l-.44-.03l-6.55 0l-.66 .07l-.41 .14l-.38 .19l-.35 .24l-.3 .29l-.25 .32l-.2 .37zM540.17 379.6l.3 .07l.17 .12l.12 .16l.07 .2l-.03 1.1l-.16 .25l-.26 .16l-6.47 .02l-.19-.06l-.17-.12l-.12-.16l-.06-.18l.02-1.11l.16-.26l.26-.16zM540.72 373.57l0 3.1l2.35 0l0-7.1l-2.35 0l0 2.77l-1.87 0l0 1.23zM534.46 373.68l3.63 2.71l.2 0l0-1.57l-2.15-1.61l0-.79l2.15-1.61l0-1.16l-7.85 0l0 1.16l4.49 0l0 .8l-4.49 3.36l0 1.57l.2 0zM529.31 373.31l0-1.23l-1.59 0l0-2.51l-2.37 0l0 6.91l2.37 0l0-3.17zM516.01 380.65l.1 .44l.17 .38l.23 .35l.43 .45l.53 .34l.4 .17l.43 .09l.44 .04l6.53 0l.67-.08l.62-.22l.36-.21l.32-.27l.27-.31l.22-.35l.17-.38l.1-.44l-.1-.44l-.17-.39l-.22-.35l-.43-.44l-.52-.34l-.4-.17l-.43-.1l-.46-.03l-6.53 0l-.66 .07l-.41 .14l-.39 .19l-.34 .24l-.3 .29l-.25 .32l-.2 .37zM518.28 380.14l.07-.22l.12-.21l.18-.15l.21-.08l6.29 0l.31 .15l.15 .18l.09 .22l.03 1.14l-.07 .22l-.12 .2l-.17 .15l-.22 .07l-6.29 0l-.31-.14l-.15-.18l-.09-.21zM520.66 371.57l-2.77 0l0-1.92l-2.38 0l0 6.61l7.53 0l0-6.61l-2.38 0zM517.89 372.58l2.77 0l0 2.61l-2.77 0zM501.24 380.65l.1 .44l.17 .38l.23 .35l.43 .45l.53 .34l.4 .17l.43 .09l.44 .04l6.55 0l.66-.08l.41-.13l.39-.19l.34-.24l.3-.29l.25-.33l.2-.37l.18-.63l-.1-.44l-.17-.39l-.23-.35l-.43-.44l-.53-.34l-.4-.17l-.43-.1l-.44-.03l-6.55 0l-.66 .07l-.41 .14l-.39 .19l-.34 .24l-.3 .29l-.25 .32l-.2 .37zM510.32 379.6l.3 .07l.17 .12l.12 .16l.07 .2l-.03 1.1l-.16 .25l-.26 .16l-6.47 .02l-.19-.06l-.17-.12l-.12-.16l-.07-.18l.03-1.11l.16-.26l.26-.16zM510.87 376.67l2.35 0l0-7.1l-2.35 0l0 2.77l-1.87 0l0 1.23l1.87 0zM504.61 373.68l3.63 2.71l.2 0l0-1.57l-2.15-1.61l0-.79l2.15-1.61l0-1.16l-7.85 0l0 1.16l4.49 0l0 .8l-4.49 3.36l0 1.57l.2 0zM499.11 378.65l-14.11 0l0 1.18l5.81 0l0 3.17l2.49 0l0-3.17l5.81 0zM495.49 369.5l0 2.28l-7.08 0l0-2.28l-2.61 0l0 7.04l12.3 0l0-7.04zM495.49 373.01l0 2.31l-7.08 0l0-2.31z"/>
<path d="M569.47 427.4l-9.55 0l0 1.12l9.55 0l0 .8l-.47 2.68l2.41 0l.59-3.48l0-10.52l-2.53 0zM559.16 424.61l2.43 0l1.82-4.34l1.84 4.34l2.43 0l-2.86-6.53l-2.8 0zM544.9 429.62l.11 .47l.17 .41l.23 .36l.44 .47l.53 .36l.4 .17l.43 .11l.45 .03l6.59 0l.66-.08l.42-.14l.39-.19l.34-.26l.31-.3l.25-.34l.2-.39l.18-.68l-.11-.48l-.17-.41l-.22-.36l-.44-.46l-.53-.36l-.41-.18l-.42-.11l-.45-.03l-6.59 0l-.67 .08l-.41 .14l-.39 .21l-.34 .25l-.31 .29l-.25 .34l-.2 .39zM554.05 428.54l.3 .07l.17 .13l.13 .17l.06 .2l-.02 1.12l-.17 .26l-.26 .17l-.21 .03l-6.2 0l-.2-.03l-.18-.1l-.16-.15l-.09-.18l-.03-.99l.03-.24l.17-.26l.26-.17l.2-.03zM554.6 422.22l0 3.25l2.37 0l0-7.47l-2.37 0l0 2.89l-1.88 0l0 1.33zM548.3 422.34l3.66 2.84l.2 0l0-1.69l-2.17-1.68l0-.8l2.17-1.68l0-1.25l-7.91 0l0 1.25l4.52 0l0 .8l-4.52 3.52l0 1.68l.2 0zM543.12 421.95l0-1.33l-1.61 0l0-2.62l-2.39 0l0 7.27l2.39 0l0-3.32zM529.72 429.62l.11 .47l.17 .41l.23 .36l.43 .47l.54 .36l.4 .17l.43 .11l.44 .03l6.58 0l.68-.08l.42-.14l.38-.19l.34-.26l.3-.3l.25-.34l.19-.39l.19-.68l-.11-.48l-.17-.41l-.22-.36l-.43-.46l-.53-.36l-.4-.18l-.43-.11l-.46-.03l-6.58 0l-.66 .08l-.42 .14l-.38 .21l-.35 .25l-.3 .29l-.25 .34l-.2 .39zM532.01 429.1l.07-.23l.12-.21l.18-.17l.21-.08l6.34 0l.31 .16l.15 .19l.09 .22l.03 1.17l-.07 .22l-.12 .21l-.18 .16l-.21 .08l-6.34 0l-.31-.15l-.15-.19l-.09-.22zM534.41 418.08l0 2.01l-2.8 0l0-2.01l-2.39 0l0 6.96l7.58 0l0-6.96zM531.61 423.88l0-2.69l2.8 0l0 2.69zM527.47 430.75l-13.67 0l0 1.25l13.67 0zM522.22 418.06l-3.17 0l-4.33 8.97l2.55 0l3.37-6.68l3.36 6.68l2.55 0zM504.41 428.34l0 3.66l2.39 0l0-3.66l5.64 0l0-1.15l-13.66 0l0 1.15zM499.65 419.96l-.21 .68l-.04 .68l.09 .71l.26 .68l.4 .58l.52 .47l.63 .35l.71 .21l.51 .04l6.18 0l.75-.09l.46-.16l.44-.22l.38-.28l.33-.32l.28-.38l.23-.42l.2-.69l.04-.68l-.09-.71l-.15-.45l-.36-.62l-.48-.51l-.38-.28l-.67-.32l-.47-.11l-.51-.04l-6.18 0l-.51 .04l-.71 .2l-.63 .36l-.52 .48l-.28 .38zM501.83 420.6l.11-.41l.22-.37l.32-.28l.43-.13l5.39 0l.43 .13l.18 .12l.15 .16l.22 .37l.11 .41l0 1.25l-.11 .41l-.22 .37l-.33 .28l-.43 .14l-5.39 0l-.43-.14l-.17-.12l-.15-.16l-.22-.37l-.11-.41zM493.89 432l2.54 0l0-7.18l1.61 0l0-1.33l-1.61 0l0-5.49l-2.54 0zM490 431.92l1.8-12.53l0-1.31l-8.05 0l0 1.31l5.38 0l0 .79l-1.63 11.74z"/>
<path d="M502.75 513.6l5.01 0l0 6.11l-5.79 0l0 1.89l14.23 0l0-1.89l-5.79 0l0-6.11l5.01 0l0-1.92l-10 0l0-6.06l10 0l0-1.92l-12.67 0zM495.49 503.6l0 16.2l-7.2 0l0-4.19l-2.5 0l0 5.99l12.1 0l0-10.77l1.67 0l0-1.99l-1.67 0l0-5.24zM487.62 510.62l0-6.92l-2.52 0l0 8.78l8.33 0l0-1.86zM474.14 511.8l-2.58 0l0 7.91l-4.16 0l0 1.89l14.23 0l0-1.89l-1.98 0l0-.69l.85-13.25l0-1.97l-12.1 0l0 1.97l9.46 0l0 .68l-.86 13.26l-2.86 0z"/>
<path d="M572.4 521.6l0-18l-2.63 0l0 18zM563.95 512.41l2.13 0l0 9.19l2.58 0l0-18l-2.58 0l0 6.99l-2.13 0zM561.18 516.48l1.59 5.02l2.57 0l-2.72-8.66l0-.7l2.13-6.47l0-1.97l-7.87 0l0 1.97l4.94 0l0 .69l-5.03 15.14l2.76 0zM546.72 517.6l0-2.64l6.38 0l0-1.78l-16.1 0l0 1.78l1.25 0l0 6.64l13.97 0l0-1.97l-11.14 0l0-4.67l2.99 0l0 2.64zM551.85 503.7l-13.6 0l0 7.01l13.6 0zM549.2 508.79l-8.33 0l0-3.15l8.33 0z"/>
    </g>
  </svg>
</div>
</body>
</html>
